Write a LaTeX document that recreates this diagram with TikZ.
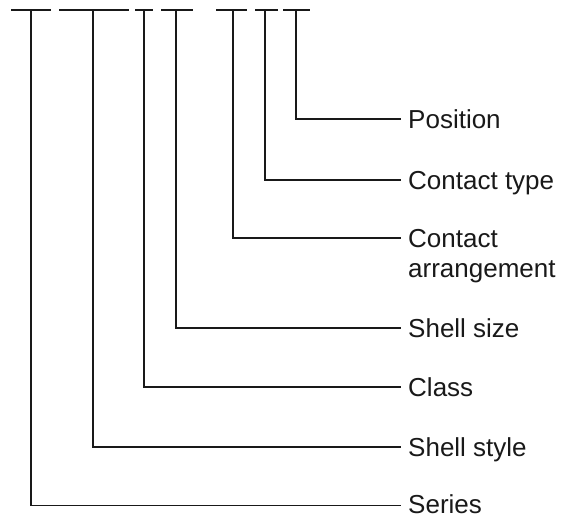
\documentclass[tikz,border=0pt]{standalone}
\usepackage{fontspec}
\setmainfont{Liberation Sans}
\usetikzlibrary{calc}
\begin{document}
\begin{tikzpicture}[x=1pt,y=-1pt,
  ln/.style={line width=1.5pt,draw=black!90},
  lbl/.style={anchor=base west,inner sep=0pt,font=\fontsize{26}{30}\selectfont,align=left,text=black!90}]
\useasboundingbox (0,0) rectangle (567,517);
% label nodes (base at y + 9)
\node[lbl] (pos) at (408,128) {Position};
\node[lbl] (ctype) at (408,189) {Contact type};
\node[lbl] (carr) at (408,277) {Contact\\arrangement};
\node[lbl] (ssize) at (408,337) {Shell size};
\node[lbl] (class) at (408,396) {Class};
\node[lbl] (sstyle) at (408,456) {Shell style};
\node[lbl] (series) at (408,513) {Series};
% top segments
\coordinate (a1) at (11,10); \coordinate (b1) at (51,10); \coordinate (t1) at (31,10);
\coordinate (a2) at (59,10); \coordinate (b2) at (129,10); \coordinate (t2) at (93,10);
\coordinate (a3) at (135,10); \coordinate (b3) at (153,10); \coordinate (t3) at (144,10);
\coordinate (a4) at (161,10); \coordinate (b4) at (193,10); \coordinate (t4) at (176,10);
\coordinate (a5) at (216,10); \coordinate (b5) at (247,10); \coordinate (t5) at (233,10);
\coordinate (a6) at (255,10); \coordinate (b6) at (278,10); \coordinate (t6) at (265,10);
\coordinate (a7) at (283,10); \coordinate (b7) at (310,10); \coordinate (t7) at (296,10);
\foreach \i in {1,...,7} {\draw[ln] (a\i) -- (b\i);}
% connectors
\draw[ln] (t1) |- ($(series.base west)+(-7,-7.5)$);
\draw[ln] (t2) |- ($(sstyle.base west)+(-7,-9)$);
\draw[ln] (t3) |- ($(class.base west)+(-7,-9)$);
\draw[ln] (t4) |- ($(ssize.base west)+(-7,-9)$);
\draw[ln] (t5) |- ($(carr.base west)+(-7,-39)$);
\draw[ln] (t6) |- ($(ctype.base west)+(-7,-9)$);
\draw[ln] (t7) |- ($(pos.base west)+(-7,-9)$);
\end{tikzpicture}
\end{document}
